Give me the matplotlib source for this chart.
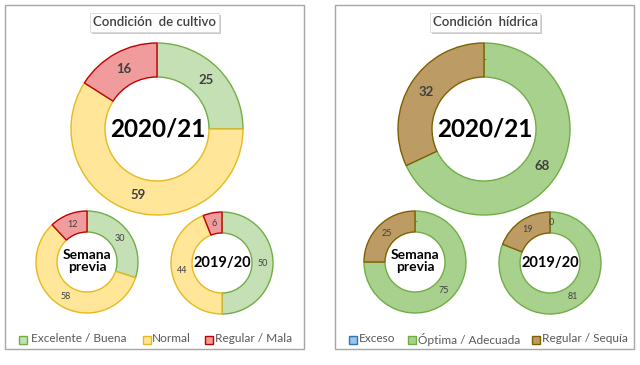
import numpy as np
import matplotlib.pyplot as plt
from matplotlib.patches import Rectangle

# ==========================
# DATA
# ==========================
cultivo_labels = ["Excelente / Buena", "Normal", "Regular / Mala"]
cultivo_actual = [25, 59, 16]      # 2020/21
cultivo_previa = [30, 58, 12]      # Semana previa
cultivo_anterior = [50, 44, 6]     # 2019/20

hidrica_labels = ["Exceso", "Óptima / Adecuada", "Regular / Sequía"]
hidrica_actual = [0, 68, 32]
hidrica_previa = [0, 75, 25]
hidrica_anterior = [0, 81, 19]

center_labels = ["2020/21", "Semana\nprevia", "2019/20"]

# ==========================
# STYLE
# ==========================
cultivo_fill = ["#C5E0B4", "#FFE699", "#F19C9C"]
cultivo_edge = ["#70AD47", "#E6B91E", "#C00000"]
hidrica_fill = ["#9DC3E6", "#A9D18E", "#BC9C64"]
hidrica_edge = ["#2E75B6", "#70AD47", "#7F6000"]

FONT = ["Lato", "DejaVu Sans"]
W, H = 640, 365

fig = plt.figure(figsize=(6.4, 3.65), dpi=100)
ax = fig.add_axes([0, 0, 1, 1])


def donut(values, cx, cy, r, width, fills, edges, fsize, zero_mark=None):
    wedges, _ = ax.pie(values, radius=r, center=(cx, cy), startangle=90,
                       counterclock=False, colors=fills,
                       wedgeprops=dict(width=width, linewidth=1.0))
    for w, e in zip(wedges, edges):
        w.set_edgecolor(e)
    # value labels in the middle of each ring segment
    total = sum(values)
    start = 90.0
    rr = r - width / 2
    for v in values:
        ang = start - 360.0 * v / total / 2
        start -= 360.0 * v / total
        if v == 0:
            if zero_mark is None:
                continue
            ax.text(cx + 1, cy + rr, zero_mark, ha="center", va="center",
                    fontsize=5.5 if zero_mark == "-" else fsize,
                    color="#404040", family=FONT)
            continue
        x = cx + rr * np.cos(np.radians(ang))
        y = cy + rr * np.sin(np.radians(ang))
        ax.text(x, y, str(v), ha="center", va="center", fontsize=fsize,
                fontweight="bold" if fsize > 8 else "normal",
                color="#404040", family=FONT)


def panel(x0, x1, title, tx0, tx1):
    ax.add_patch(Rectangle((x0, H - 349), x1 - x0, 344, fill=False,
                           edgecolor="#A6A6A6", linewidth=1.0))
    # title box with shadow
    ax.add_patch(Rectangle((tx0 + 2, H - 34), tx1 - tx0, 19,
                           facecolor="#C8C8C8", edgecolor="none"))
    ax.add_patch(Rectangle((tx0, H - 32), tx1 - tx0, 19,
                           facecolor="white", edgecolor="#D9D9D9", linewidth=0.6))
    ax.text((tx0 + tx1) / 2, H - 22.5, title, ha="center", va="center",
            fontsize=9.5, fontweight="semibold", color="#404040", family=FONT)


def legend(items, fills, edges, xs, y):
    for (mx, tx), lab, f, e in zip(xs, items, fills, edges):
        ax.add_patch(Rectangle((mx, H - y - 4.5), 8, 8, facecolor=f,
                               edgecolor=e, linewidth=1.0))
        ax.text(tx, H - y, lab, ha="left", va="center", fontsize=8.6,
                color="#595959", family=FONT)


# left panel
panel(5, 304, "Condición  de cultivo", 90, 219)
donut(cultivo_actual, 157, H - 129, 86, 34, cultivo_fill, cultivo_edge, 9.5)
donut(cultivo_previa, 87, H - 262, 51, 21, cultivo_fill, cultivo_edge, 6.5)
donut(cultivo_anterior, 222, H - 263, 51, 21, cultivo_fill, cultivo_edge, 6.5)
legend(cultivo_labels, cultivo_fill, cultivo_edge,
       [(19, 31), (143, 152), (205, 215)], 339)

# right panel
panel(335, 634, "Condición  hídrica", 430, 540)
donut(hidrica_actual, 484, H - 129, 86, 34, hidrica_fill, hidrica_edge, 9.5,
      zero_mark="-")
donut(hidrica_previa, 415, H - 262, 51, 21, hidrica_fill, hidrica_edge, 6.5,
      zero_mark="-")
donut(hidrica_anterior, 550, H - 263, 51, 21, hidrica_fill, hidrica_edge, 6.5,
      zero_mark="0")
legend(hidrica_labels, hidrica_fill, hidrica_edge,
       [(349, 359), (408, 418), (532, 542)], 339)

# center labels
for x in (158, 485):
    ax.text(x, H - 129, center_labels[0], ha="center", va="center",
            fontsize=17.5, fontweight="bold", color="black", family=FONT)
for x in (87, 415):
    ax.text(x, H - 261, center_labels[1], ha="center", va="center",
            fontsize=10, fontweight="bold", color="black", family=FONT,
            linespacing=1.05)
for x in (222, 550):
    ax.text(x, H - 263, center_labels[2], ha="center", va="center",
            fontsize=10.5, fontweight="bold", color="black", family=FONT)

ax.set_xlim(0, W)
ax.set_ylim(0, H)
ax.set_aspect("auto")
ax.axis("off")

fig.savefig("out.png", dpi=100)
